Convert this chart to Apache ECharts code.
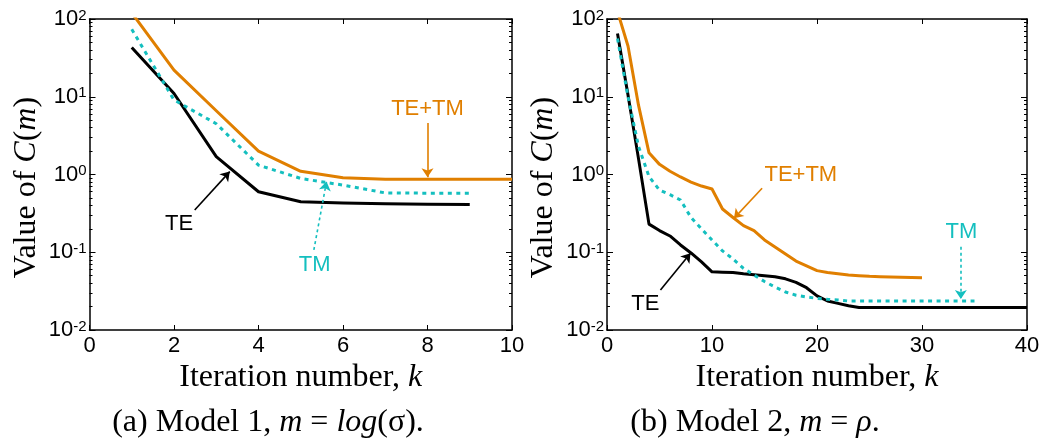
<!DOCTYPE html>
<html><head><meta charset="utf-8">
<script src="https://cdn.jsdelivr.net/npm/echarts@6/dist/echarts.min.js"></script>
<style>html,body{margin:0;padding:0;background:#fff}#c{width:1049px;height:443px}</style>
</head><body><div id="c"></div>
<script>
// ---------- data (panel a: Model 1) ----------
const kA = [1, 2, 3, 4, 5, 6, 7, 8, 9, 10];
const teA = [43, 11, 1.7, 0.60, 0.447, 0.43, 0.42, 0.415, 0.41];
const tmA = [73.6, 9.1, 4.5, 1.32, 0.89, 0.73, 0.58, 0.575, 0.575];
const tetmA = [120, 22, 6.6, 2.0, 1.1, 0.91, 0.87, 0.87, 0.87, 0.87];

// ---------- data (panel b: Model 2) ----------
const kB = [1,2,3,4,5,6,7,8,9,10,11,12,13,14,15,16,17,18,19,20,21,22,23,24,25,26,27,28,29,30,31,32,33,34,35,36,37,38,39,40];
const teB = [65, 10.5, 1.6, 0.23, 0.19, 0.162, 0.124, 0.098, 0.075, 0.056,
             0.0555, 0.055, 0.053, 0.0515, 0.050, 0.0485, 0.0455, 0.041, 0.035, 0.0275,
             0.0236, 0.022, 0.0205, 0.0195, 0.0195, 0.0195, 0.0195, 0.0195, 0.0195, 0.0195,
             0.0195, 0.0195, 0.0195, 0.0195, 0.0195, 0.0195, 0.0195, 0.0195, 0.0195, 0.0195];
const tmB = [56, 10, 2.3, 0.94, 0.63, 0.55, 0.47, 0.28, 0.20, 0.144,
             0.104, 0.082, 0.062, 0.051, 0.042, 0.0357, 0.0308, 0.028, 0.0266, 0.0255,
             0.0248, 0.0243, 0.0236, 0.0236, 0.0236, 0.0236, 0.0236, 0.0236, 0.0236, 0.0236,
             0.0236, 0.0236, 0.0236, 0.0236, 0.0236];
const tetmB = [125, 45, 7.8, 1.9, 1.35, 1.1, 0.93, 0.8, 0.71, 0.65,
               0.36, 0.28, 0.22, 0.19, 0.144, 0.117, 0.095, 0.077, 0.067, 0.058,
               0.055, 0.053, 0.051, 0.050, 0.049, 0.0485, 0.048, 0.0478, 0.0475, 0.047];

// ---------- ticks ----------
const yMinorTicks = [0.02,0.03,0.04,0.05,0.06,0.07,0.08,0.09,
                     0.2,0.3,0.4,0.5,0.6,0.7,0.8,0.9,
                     2,3,4,5,6,7,8,9,
                     20,30,40,50,60,70,80,90];

// ---------- annotations (data coordinates) ----------
const annTextA = ['TE+TM', 'TE', 'TM'];
const annAtA   = [[8.0, 7.06], [2.12, 0.23], [5.33, 0.0686]];
const annFromA = [[8.0, 4.6], [2.49, 0.35], [5.31, 0.107]];
const annToA   = [[8.0, 0.92], [3.32, 1.09], [5.61, 0.81]];

const annTextB = ['TE+TM', 'TE', 'TM'];
const annAtB   = [[18.46, 0.985], [3.66, 0.0216], [33.75, 0.18]];
const annFromB = [[14.77, 0.664], [5.09, 0.0327], [33.7, 0.118]];
const annToB   = [[12.09, 0.273], [7.95, 0.0969], [33.7, 0.0250]];

const captionA = '(a) Model 1, {i|m} = {i|log}(σ).';
const captionB = '(b) Model 2, {i|m} = {i|ρ}.';

// ---------- styles ----------
const ORANGE = '#E07F00', CYAN = '#14BFBF', BLACK = '#000000';
const SANS = 'Liberation Sans', SERIF = 'Liberation Serif';

const pairs = (ks, vs) => vs.map((v, i) => [ks[i], v]);

function yLabelFmt(v) {
  const e = Math.round(Math.log10(v));
  return '{b|10}{s|' + (e < 0 ? '-' : '') + Math.abs(e) + '}';
}
const yRich = {
  b: {fontFamily: SANS, fontSize: 22, lineHeight: 22, color: BLACK},
  s: {fontFamily: SANS, fontSize: 15, lineHeight: 4, verticalAlign: 'top', color: BLACK}
};
const serifRich = {
  i: {fontFamily: SERIF, fontSize: 32, fontStyle: 'italic', color: BLACK}
};

const axisLine = {show: true, onZero: false, lineStyle: {color: BLACK, width: 1.5}};

function xAxes(grid, max, interval) {
  return [
    {type: 'value', gridIndex: grid, min: 0, max: max, interval: interval, position: 'bottom',
     axisLine: axisLine, splitLine: {show: false},
     axisTick: {inside: true, length: 5, lineStyle: {color: BLACK, width: 1}},
     axisLabel: {fontFamily: SANS, fontSize: 22, color: BLACK, margin: 5},
     name: 'Iteration number, {i|k}', nameLocation: 'middle', nameGap: 31,
     nameTextStyle: {fontFamily: SERIF, fontSize: 32, color: BLACK, rich: serifRich}},
    {type: 'value', gridIndex: grid, min: 0, max: max, interval: interval, position: 'top',
     axisLine: axisLine, splitLine: {show: false},
     axisTick: {inside: true, length: 5, lineStyle: {color: BLACK, width: 1}},
     axisLabel: {show: false}}
  ];
}
function yAxes(grid) {
  const minorLog = yMinorTicks.map(v => Math.log10(v));
  return [
    {type: 'log', logBase: 10, gridIndex: grid, min: 0.01, max: 100, position: 'left',
     axisLine: axisLine, splitLine: {show: false},
     axisTick: {inside: true, length: 6, lineStyle: {color: BLACK, width: 1}},
     axisLabel: {formatter: yLabelFmt, rich: yRich, margin: 3},
     name: 'Value of {i|C}({i|m})', nameLocation: 'middle', nameGap: 47,
     nameTextStyle: {fontFamily: SERIF, fontSize: 32, color: BLACK, rich: serifRich, padding: [0, 26, 0, 0]}},
    {type: 'log', logBase: 10, gridIndex: grid, min: 0.01, max: 100, position: 'right',
     axisLine: axisLine, splitLine: {show: false},
     axisTick: {inside: true, length: 6, lineStyle: {color: BLACK, width: 1}},
     axisLabel: {show: false}},
    {type: 'value', gridIndex: grid, min: -2, max: 2, position: 'left',
     axisLine: {show: false, onZero: false}, splitLine: {show: false},
     axisTick: {inside: true, length: 3, customValues: minorLog, lineStyle: {color: BLACK, width: 1}},
     axisLabel: {show: false, customValues: minorLog}},
    {type: 'value', gridIndex: grid, min: -2, max: 2, position: 'right',
     axisLine: {show: false, onZero: false}, splitLine: {show: false},
     axisTick: {inside: true, length: 3, customValues: minorLog, lineStyle: {color: BLACK, width: 1}},
     axisLabel: {show: false, customValues: minorLog}}
  ];
}

function annotate(text, at, from, to, color, dotted) {
  return {
    markPoint: {
      silent: true, symbol: 'circle', symbolSize: 0, animation: false,
      data: [{name: text, coord: at}],
      label: {show: true, position: 'inside', formatter: '{b}', fontFamily: SANS, fontSize: 22, color: color}
    },
    markLine: {
      silent: true, animation: false, symbol: ['none', 'arrow'], symbolSize: 9,
      label: {show: false},
      lineStyle: {color: color, width: 1.6, type: dotted ? [3, 3] : 'solid'},
      data: [[{coord: from}, {coord: to}]]
    }
  };
}

function lineSeries(xi, yi, data, color, dotted, ann) {
  return Object.assign({
    type: 'line', xAxisIndex: xi, yAxisIndex: yi, data: data,
    showSymbol: false, symbol: 'none', clip: true, animation: false, silent: true,
    lineStyle: {color: color, width: 3, type: dotted ? [4, 4.5] : 'solid', cap: 'butt', join: 'round'},
    itemStyle: {color: color}
  }, ann);
}

const captionStyle = {fontFamily: SERIF, fontSize: 32, fontWeight: 'normal', color: BLACK,
  rich: {i: {fontFamily: SERIF, fontSize: 32, fontStyle: 'italic', color: BLACK}}};

const option = {
  animation: false,
  backgroundColor: '#ffffff',
  title: [
    {text: captionA, left: 268, top: 407, textAlign: 'center', padding: 0, textStyle: captionStyle},
    {text: captionB, left: 755, top: 407, textAlign: 'center', padding: 0, textStyle: captionStyle}
  ],
  grid: [
    {left: 89.5, top: 19, width: 422.5, height: 311},
    {left: 607, top: 19, width: 420, height: 311}
  ],
  xAxis: [].concat(xAxes(0, 10, 2), xAxes(1, 40, 10)),
  yAxis: [].concat(yAxes(0), yAxes(1)),
  series: [
    lineSeries(0, 0, pairs(kA, teA), BLACK, false, annotate(annTextA[1], annAtA[1], annFromA[1], annToA[1], BLACK, false)),
    lineSeries(0, 0, pairs(kA, tmA), CYAN, true, annotate(annTextA[2], annAtA[2], annFromA[2], annToA[2], CYAN, true)),
    lineSeries(0, 0, pairs(kA, tetmA), ORANGE, false, annotate(annTextA[0], annAtA[0], annFromA[0], annToA[0], ORANGE, false)),
    lineSeries(2, 4, pairs(kB, teB), BLACK, false, annotate(annTextB[1], annAtB[1], annFromB[1], annToB[1], BLACK, false)),
    lineSeries(2, 4, pairs(kB, tmB), CYAN, true, annotate(annTextB[2], annAtB[2], annFromB[2], annToB[2], CYAN, true)),
    lineSeries(2, 4, pairs(kB, tetmB), ORANGE, false, annotate(annTextB[0], annAtB[0], annFromB[0], annToB[0], ORANGE, false))
  ]
};

const chart = echarts.init(document.getElementById('c'), null, {renderer: 'canvas'});
chart.setOption(option);
</script>
</body></html>
